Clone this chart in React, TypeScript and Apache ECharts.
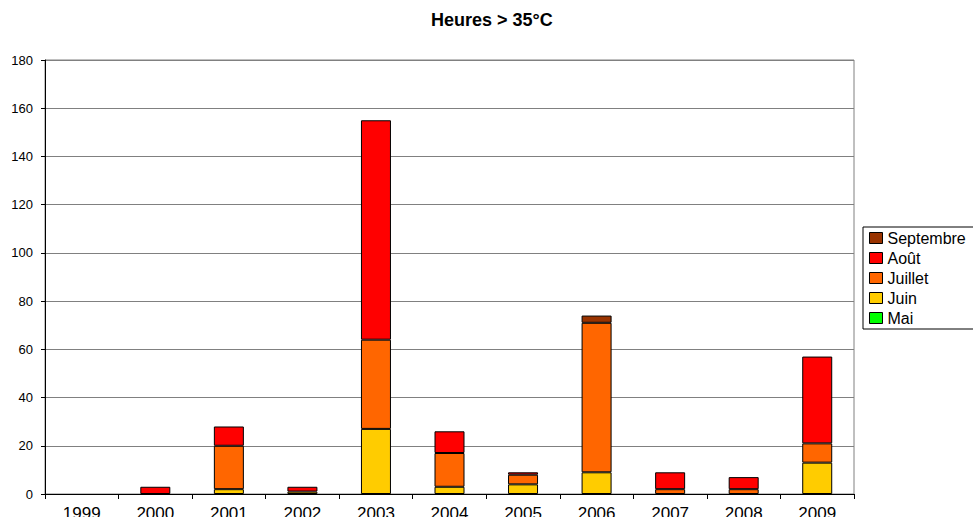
import React, { useEffect, useRef } from "react";
import * as echarts from "echarts";

const years = ["1999", "2000", "2001", "2002", "2003", "2004", "2005", "2006", "2007", "2008", "2009"];
const mai = [0, 0, 0, 0, 0, 0, 0, 0, 0, 0, 0];
const juin = [0, 0, 2, 1, 27, 3, 4, 9, 0, 0, 13];
const juillet = [0, 0, 18, 0, 37, 14, 4, 62, 2, 2, 8];
const aout = [0, 3, 8, 2, 91, 9, 1, 0, 7, 5, 36];
const septembre = [0, 0, 0, 0, 0, 0, 0, 3, 0, 0, 0];

const seriesDefs = [
  { name: "Mai", data: mai, color: "#00FF00" },
  { name: "Juin", data: juin, color: "#FFCC00" },
  { name: "Juillet", data: juillet, color: "#FF6600" },
  { name: "Août", data: aout, color: "#FF0000" },
  { name: "Septembre", data: septembre, color: "#993300" },
];
const legendOrder = ["Septembre", "Août", "Juillet", "Juin", "Mai"];

const FONT = "'Liberation Sans', Arial, sans-serif";

export default function App() {
  const ref = useRef<HTMLDivElement>(null);
  useEffect(() => {
    if (!ref.current) return;
    const chart = echarts.init(ref.current, undefined, { renderer: "svg" });
    chart.setOption({
      animation: false,
      backgroundColor: "#ffffff",
      title: {
        text: "Heures > 35°C",
        left: 431,
        top: 11,
        padding: 0,
        textStyle: { fontFamily: FONT, fontSize: 18, fontWeight: "bold", color: "#000" },
      },
      legend: {
        orient: "vertical",
        left: 863,
        top: 227,
        padding: [3, 14, 3, 6],
        itemGap: 4,
        itemWidth: 13,
        itemHeight: 11,
        icon: "rect",
        backgroundColor: "#ffffff",
        borderColor: "#000000",
        borderWidth: 1,
        borderRadius: 0,
        data: legendOrder,
        textStyle: { fontFamily: FONT, fontSize: 16, color: "#000" },
        itemStyle: { borderColor: "#000", borderWidth: 1 },
      },
      grid: {
        left: 45,
        right: 119,
        top: 60,
        bottom: 23,
        outerBoundsMode: "none",
        containLabel: false,
        show: true,
        borderColor: "#808080",
        borderWidth: 1,
        backgroundColor: "transparent",
      },
      xAxis: {
        type: "category",
        data: years,
        boundaryGap: true,
        axisLine: { lineStyle: { color: "#000", width: 1 } },
        axisTick: { show: true, length: 5, interval: 0, lineStyle: { color: "#000" } },
        axisLabel: { interval: 0, margin: 11, fontFamily: FONT, fontSize: 17, color: "#000" },
        splitLine: { show: false },
      },
      yAxis: {
        type: "value",
        min: 0,
        max: 180,
        interval: 20,
        axisLine: { show: true, lineStyle: { color: "#000", width: 1 } },
        axisTick: { show: true, length: 4, lineStyle: { color: "#000" } },
        axisLabel: { margin: 12, fontFamily: FONT, fontSize: 13, color: "#000" },
        splitLine: { show: true, lineStyle: { color: "#808080", width: 1 } },
      },
      series: seriesDefs.map((s) => ({
        name: s.name,
        type: "bar",
        stack: "total",
        barWidth: 30,
        data: s.data.map((v) => (v === 0 ? null : v)),
        itemStyle: { color: s.color, borderColor: "#000", borderWidth: 1 },
      })),
    });
    return () => chart.dispose();
  }, []);
  return <div ref={ref} style={{ width: 973, height: 517, position: "absolute", left: 0, top: 0 }} />;
}
